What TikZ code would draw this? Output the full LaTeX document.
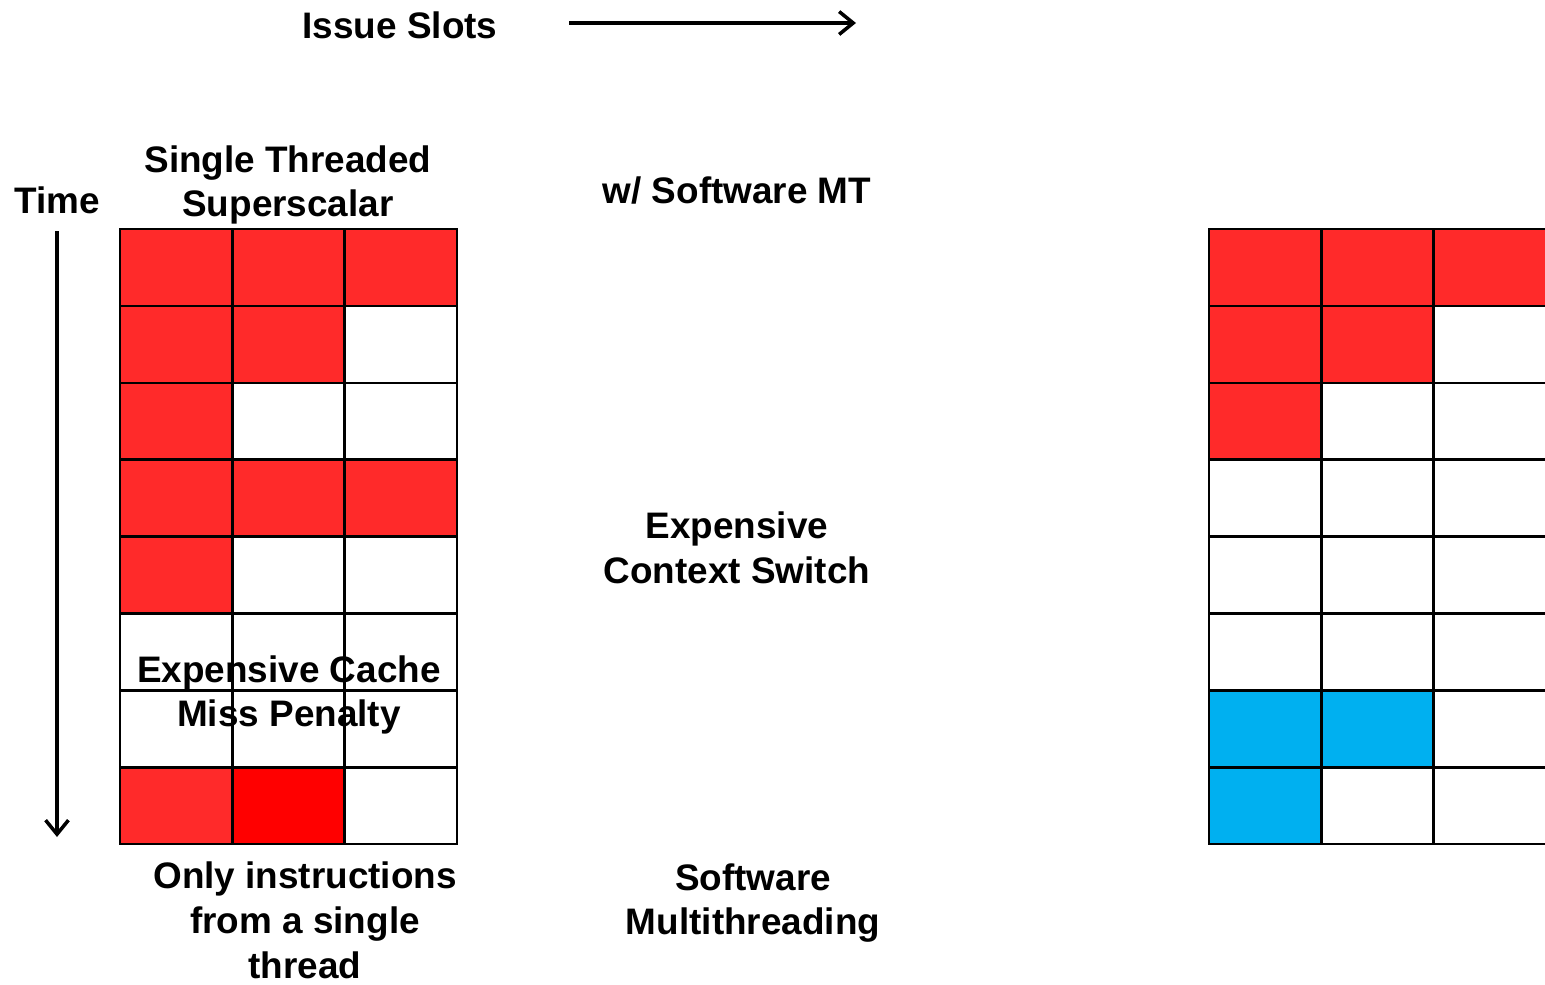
\documentclass[tikz,border=0pt]{standalone}
\usepackage{fontspec}
\setmainfont{Liberation Sans}
\usetikzlibrary{arrows.meta}
\definecolor{slotred}{RGB}{255,42,42}
\definecolor{missred}{RGB}{255,0,0}
\definecolor{swblue}{RGB}{0,176,240}
\begin{document}
\begin{tikzpicture}[x=0.02cm,y=-0.02cm,font=\fontsize{21}{25.5}\selectfont\bfseries,
    lbl/.style={align=center,inner sep=0pt},
    cell/.style={draw=black,line width=1.4pt},
    timearrow/.style={line width=2pt,-{Straight Barb[length=8pt,width=13pt,line width=2pt]}}]
        \useasboundingbox (0,0) rectangle (1545,984);
        \def\cw{112.33}
        \def\ch{76.9}

        % single threaded superscalar
        \begin{scope}[shift={(120,229)}]
            \foreach \r/\a/\b/\c in {0/slotred/slotred/slotred,1/slotred/slotred/white,
                2/slotred/white/white,3/slotred/slotred/slotred,4/slotred/white/white,
                5/white/white/white,6/white/white/white,7/slotred/missred/white}
            {
                \filldraw[cell,fill=\a] (0,\r*\ch) rectangle ++(\cw,\ch);
                \filldraw[cell,fill=\b] (\cw,\r*\ch) rectangle ++(\cw,\ch);
                \filldraw[cell,fill=\c] (2*\cw,\r*\ch) rectangle ++(\cw,\ch);
            }
        \end{scope}

        % software multithreading
        \begin{scope}[shift={(1209,229)}]
            \foreach \r/\a/\b/\c in {0/slotred/slotred/slotred,1/slotred/slotred/white,
                2/slotred/white/white,3/white/white/white,4/white/white/white,
                5/white/white/white,6/swblue/swblue/white,7/swblue/white/white}
            {
                \filldraw[cell,fill=\a] (0,\r*\ch) rectangle ++(\cw,\ch);
                \filldraw[cell,fill=\b] (\cw,\r*\ch) rectangle ++(\cw,\ch);
                \filldraw[cell,fill=\c] (2*\cw,\r*\ch) rectangle ++(\cw,\ch);
            }
        \end{scope}

        \node[lbl] (issue) at (400,25) {Issue Slots};
        \coordinate (slotsL) at (569,23);
        \coordinate (slotsR) at (856,23);
        \draw[timearrow] (slotsL) -- (slotsR);

        \node[lbl] (time) at (57,200) {Time};
        \coordinate (timeT) at (57,231);
        \coordinate (timeB) at (57,837);
        \draw[timearrow] (timeT) -- (timeB);

        \node[lbl] (single) at (288,185) {Single Threaded\\Superscalar};
        \node[lbl] (swmt) at (737,190) {w/ Software MT};
        \node[lbl] (ctxsw) at (737,548) {Expensive\\Context Switch};
        \node[lbl] (cachemiss) at (289,695) {Expensive Cache\\Miss Penalty};
        \node[lbl] (onlyone) at (305,920) {Only instructions\\from a single\\thread};
        \node[lbl] (swmulti) at (753,903) {Software\\Multithreading};
    \end{tikzpicture}
\end{document}
